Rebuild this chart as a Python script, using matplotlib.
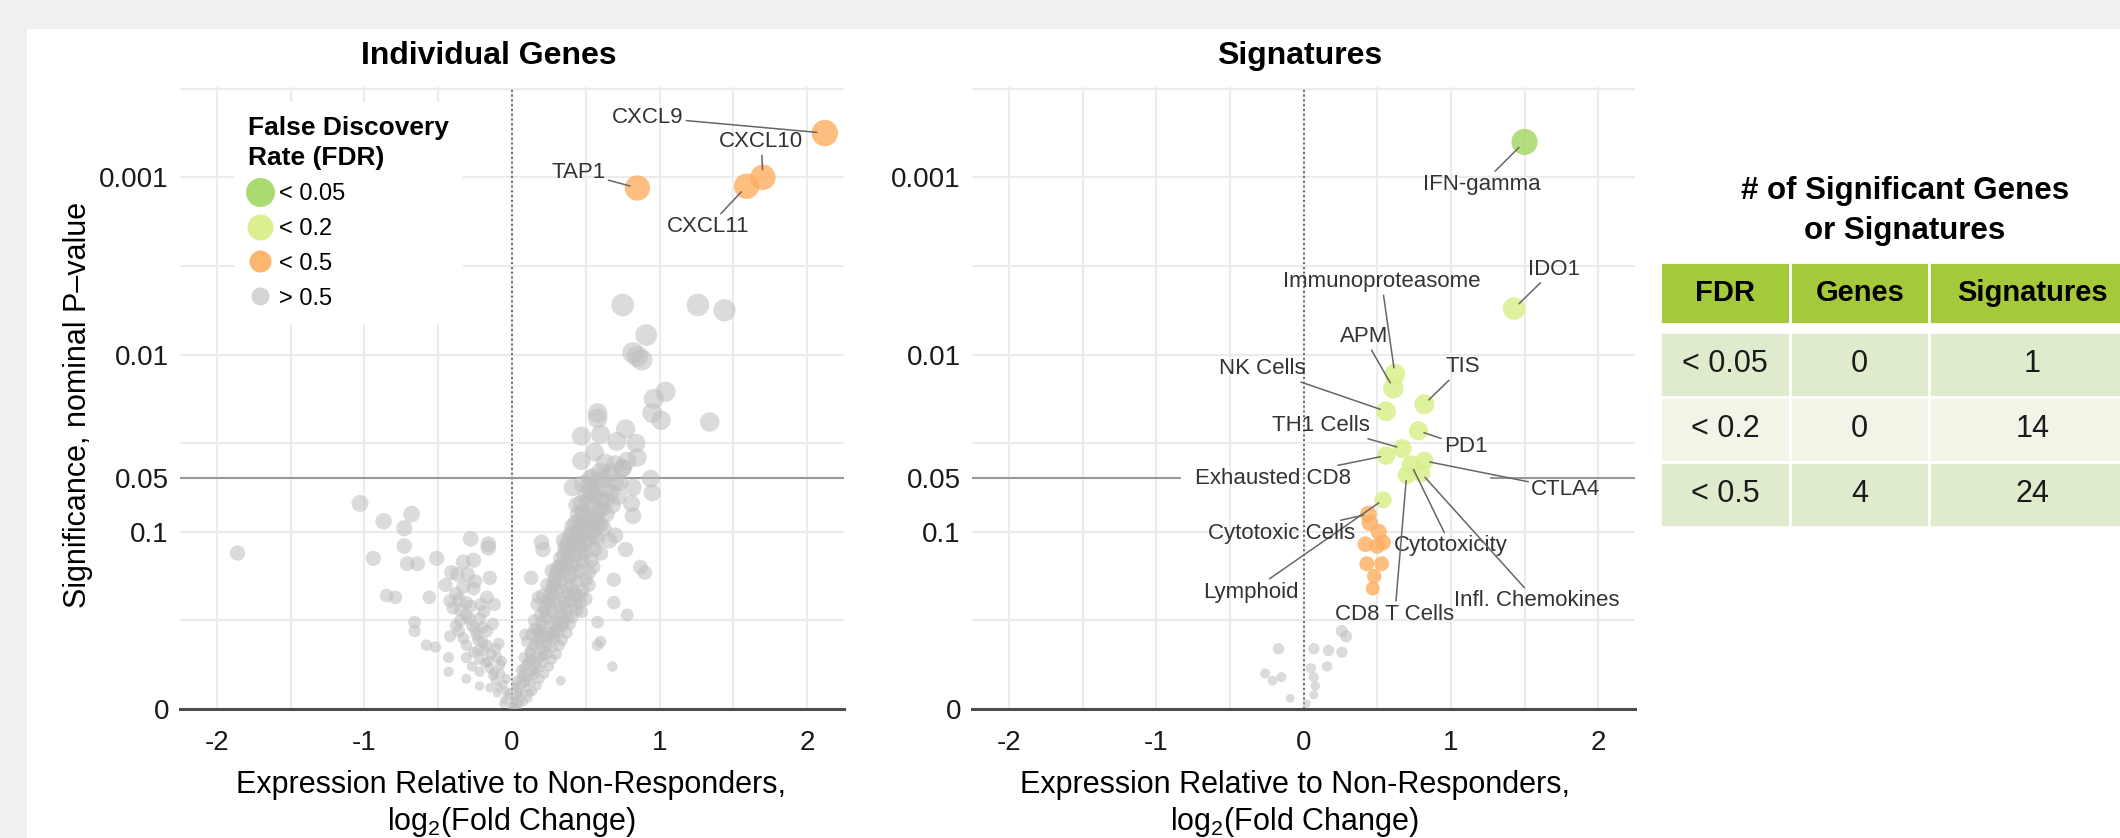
import matplotlib
matplotlib.use('Agg')
import matplotlib.pyplot as plt
from matplotlib.lines import Line2D
from matplotlib.patches import Rectangle
import numpy as np

plt.rcParams['font.family'] = ['Liberation Sans', 'DejaVu Sans']
plt.rcParams['mathtext.fontset'] = 'custom'
plt.rcParams['mathtext.rm'] = 'Liberation Sans'
plt.rcParams['mathtext.it'] = 'Liberation Sans:italic'
plt.rcParams['mathtext.bf'] = 'Liberation Sans:bold'

# ---- data: (log2 fold change, -log10 p) ----
# genes with FDR > 0.5
ns_genes = [
    # right arm of the volcano
    (0.01, 0.02), (0.03, 0.04), (0.05, 0.03), (0.02, 0.07), (0.06, 0.06), (0.08, 0.09), (0.04, 0.11),
    (0.10, 0.12), (0.07, 0.14), (0.13, 0.15), (0.03, 0.16), (0.09, 0.18), (0.15, 0.19), (0.12, 0.21),
    (0.06, 0.22), (0.18, 0.23), (0.10, 0.25), (0.14, 0.27), (0.21, 0.26), (0.08, 0.29), (0.17, 0.30),
    (0.24, 0.31), (0.12, 0.32), (0.20, 0.34), (0.27, 0.35), (0.15, 0.36), (0.10, 0.38), (0.23, 0.38),
    (0.19, 0.40), (0.29, 0.40), (0.13, 0.42), (0.25, 0.43), (0.32, 0.44), (0.17, 0.45), (0.21, 0.47),
    (0.28, 0.48), (0.35, 0.49), (0.15, 0.50), (0.24, 0.51), (0.31, 0.52), (0.19, 0.53), (0.27, 0.55),
    (0.37, 0.55), (0.22, 0.57), (0.33, 0.58), (0.17, 0.59), (0.29, 0.60), (0.40, 0.61), (0.25, 0.62),
    (0.35, 0.63), (0.21, 0.64), (0.31, 0.66), (0.42, 0.66), (0.27, 0.68), (0.37, 0.69), (0.24, 0.70),
    (0.33, 0.72), (0.44, 0.72), (0.29, 0.74), (0.39, 0.75), (0.35, 0.77), (0.27, 0.78), (0.45, 0.78),
    (0.31, 0.80), (0.41, 0.81), (0.37, 0.83), (0.48, 0.84), (0.33, 0.85), (0.43, 0.87), (0.39, 0.89),
    (0.50, 0.89), (0.36, 0.91), (0.46, 0.92), (0.42, 0.94), (0.52, 0.95), (0.39, 0.97), (0.48, 0.98),
    (0.44, 1.00), (0.55, 1.01), (0.41, 1.03), (0.50, 1.04), (0.46, 1.06), (0.57, 1.07), (0.53, 1.09),
    (0.48, 1.11), (0.59, 1.12), (0.55, 1.14), (0.51, 1.17), (0.61, 1.18), (0.57, 1.20), (0.53, 1.23),
    (0.63, 1.24), (0.48, 1.27), (0.58, 1.28),
    (0.05, 0.09), (0.11, 0.17), (0.16, 0.25), (0.22, 0.33), (0.26, 0.41), (0.30, 0.46), (0.33, 0.53),
    (0.36, 0.60), (0.38, 0.65), (0.40, 0.70), (0.42, 0.76), (0.45, 0.82), (0.47, 0.88), (0.49, 0.93),
    (0.51, 0.99), (0.53, 1.05), (0.02, 0.12), (0.07, 0.19), (0.13, 0.28), (0.18, 0.37), (0.20, 0.44),
    (0.23, 0.52), (0.26, 0.58), (0.28, 0.64), (0.30, 0.70), (0.32, 0.76), (0.36, 0.81), (0.38, 0.86),
    (0.41, 0.91), (0.44, 0.96), (0.46, 1.02), (0.49, 1.08), (0.01, 0.05), (0.04, 0.08), (0.09, 0.15),
    (0.14, 0.22), (0.19, 0.29), (0.24, 0.36), (0.28, 0.42), (0.34, 0.47), (0.38, 0.52), (0.43, 0.59),
    (0.46, 0.64),
    (0.11, 0.06), (0.14, 0.10), (0.17, 0.13), (0.19, 0.17), (0.22, 0.20), (0.25, 0.24), (0.27, 0.28),
    (0.30, 0.31), (0.32, 0.36), (0.34, 0.39), (0.37, 0.43), (0.39, 0.48), (0.41, 0.52), (0.44, 0.56),
    (0.46, 0.60), (0.48, 0.67), (0.50, 0.73), (0.52, 0.77), (0.54, 0.84), (0.56, 0.90), (0.58, 0.96),
    (0.60, 1.04), (0.03, 0.13), (0.06, 0.17), (0.08, 0.23), (0.11, 0.27), (0.13, 0.33), (0.16, 0.39),
    (0.18, 0.43), (0.20, 0.49), (0.22, 0.55), (0.24, 0.60), (0.26, 0.65), (0.28, 0.71), (0.30, 0.77),
    (0.33, 0.81), (0.35, 0.87), (0.37, 0.93), (0.40, 0.99), (0.43, 1.05), (0.45, 1.10), (0.47, 1.16),
    (0.50, 1.21), (0.52, 1.26), (0.55, 1.31), (0.60, 1.34), (0.64, 1.18), (0.61, 1.13), (0.58, 1.04),
    (0.56, 0.97), (0.43, 0.64), (0.36, 0.57), (0.31, 0.49), (0.29, 0.44), (0.23, 0.41), (0.21, 0.30),
    (0.16, 0.21), (0.12, 0.09), (0.08, 0.04), (0.04, 0.01), (0.02, 0.01),
    (0.62, 1.02), (0.66, 0.95), (0.60, 0.88), (0.55, 0.80), (0.52, 0.70), (0.50, 0.62), (0.47, 0.55),
    (0.64, 1.10), (0.68, 1.15), (0.72, 1.20), (0.62, 1.30), (0.66, 1.33), (0.70, 1.38), (0.75, 1.36),
    (0.73, 1.28), (0.67, 1.22),
    # scattered positives
    (0.41, 1.25), (0.56, 1.21), (0.95, 1.22), (0.94, 1.30), (0.82, 1.25), (0.44, 1.15), (0.81, 1.16),
    (0.82, 1.09), (0.20, 0.94), (0.21, 0.90), (0.35, 0.95), (0.70, 0.98), (0.77, 0.90), (0.87, 0.80),
    (0.90, 0.77), (0.13, 0.74), (0.69, 0.73), (0.69, 0.60), (0.78, 0.53), (0.58, 0.49), (0.60, 0.38),
    (0.58, 0.36), (0.68, 0.24), (0.33, 0.16), (0.09, 0.42), (0.18, 0.63), (0.15, 0.45),
    (0.75, 2.28), (1.26, 2.28), (1.44, 2.25), (0.91, 2.11), (0.82, 2.01), (0.85, 1.99), (0.88, 1.97),
    (1.04, 1.79), (0.96, 1.75), (0.95, 1.67), (1.01, 1.63), (1.34, 1.62), (0.58, 1.67), (0.58, 1.64),
    (0.47, 1.54), (0.60, 1.55), (0.77, 1.58), (0.71, 1.51), (0.84, 1.50), (0.56, 1.45), (0.47, 1.40),
    (0.63, 1.39), (0.78, 1.40), (0.85, 1.42), (0.75, 1.36), (0.53, 1.30), (0.70, 1.28),
    # left arm
    (-1.86, 0.88), (-1.03, 1.16), (-0.87, 1.06), (-0.68, 1.10), (-0.73, 1.02), (-0.73, 0.92),
    (-0.94, 0.85), (-0.71, 0.82), (-0.64, 0.82), (-0.51, 0.85), (-0.85, 0.64), (-0.79, 0.63),
    (-0.56, 0.63), (-0.66, 0.49), (-0.66, 0.44), (-0.58, 0.36), (-0.52, 0.35), (-0.43, 0.29),
    (-0.43, 0.21), (-0.28, 0.96), (-0.16, 0.93), (-0.16, 0.91), (-0.15, 0.74), (-0.26, 0.84),
    (-0.33, 0.83), (-0.41, 0.77), (-0.37, 0.76), (-0.45, 0.70), (-0.42, 0.61), (-0.40, 0.57),
    (-0.26, 0.68), (-0.17, 0.63), (-0.12, 0.59), (-0.31, 0.53), (-0.22, 0.51), (-0.13, 0.48),
    (-0.42, 0.41), (-0.33, 0.40), (-0.24, 0.42), (-0.31, 0.36), (-0.17, 0.36), (-0.09, 0.37),
    (-0.31, 0.29), (-0.22, 0.28), (-0.10, 0.29), (-0.31, 0.17), (-0.22, 0.21), (-0.15, 0.23),
    (-0.08, 0.25), (-0.22, 0.13), (-0.15, 0.12), (-0.10, 0.09), (-0.05, 0.05), (-0.01, 0.02),
    (-0.20, 0.46), (-0.27, 0.47), (-0.35, 0.50), (-0.19, 0.55), (-0.28, 0.58), (-0.36, 0.62),
    (-0.23, 0.33), (-0.18, 0.26), (-0.13, 0.19), (-0.27, 0.24), (-0.06, 0.14), (-0.04, 0.10),
    (-0.11, 0.16), (-0.08, 0.20), (-0.03, 0.07), (-0.14, 0.31), (-0.20, 0.38), (-0.25, 0.72),
    (-0.33, 0.69), (-0.38, 0.47),
    (-0.06, 0.03), (-0.09, 0.12), (-0.12, 0.21), (-0.16, 0.27), (-0.19, 0.33), (-0.23, 0.39),
    (-0.25, 0.45), (-0.29, 0.51), (-0.31, 0.60), (-0.21, 0.59), (-0.17, 0.44), (-0.11, 0.34),
    (-0.07, 0.27), (-0.04, 0.17), (-0.02, 0.09), (-0.35, 0.56), (-0.38, 0.65), (-0.30, 0.76),
    (-0.36, 0.44), (-0.26, 0.32),
]

# labelled genes, all FDR < 0.5
top_genes = ['CXCL9', 'CXCL10', 'CXCL11', 'TAP1']
top_genes_x = [2.12, 1.70, 1.59, 0.85]
top_genes_y = [3.25, 3.00, 2.95, 2.94]
top_genes_fdr = ['< 0.5', '< 0.5', '< 0.5', '< 0.5']

# gene signatures
sig_names = ['IFN-gamma', 'IDO1', 'Immunoproteasome', 'APM', 'TIS', 'NK Cells', 'PD1',
             'TH1 Cells', 'Exhausted CD8', 'CTLA4', 'Cytotoxicity', 'Infl. Chemokines',
             'CD8 T Cells', 'Lymphoid', 'Cytotoxic Cells']
sig_x = [1.50, 1.43, 0.62, 0.61, 0.82, 0.56, 0.78, 0.67, 0.56, 0.82, 0.73, 0.80, 0.70, 0.54, 0.44]
sig_y = [3.20, 2.26, 1.89, 1.81, 1.72, 1.68, 1.57, 1.47, 1.43, 1.40, 1.38, 1.33, 1.32, 1.18, 1.10]
sig_fdr = ['< 0.05'] + ['< 0.2'] * 13 + ['< 0.5']

# unlabelled signatures
sig_other_x = [0.45, 0.51, 0.54, 0.50, 0.42, 0.43, 0.53, 0.48, 0.47,
               0.26, 0.29, -0.17, 0.07, 0.17, 0.26, 0.16, -0.26, -0.21, -0.15, 0.05, 0.07, 0.08,
               0.07, -0.09, 0.02]
sig_other_y = [1.05, 1.00, 0.94, 0.92, 0.93, 0.82, 0.82, 0.75, 0.68,
               0.44, 0.41, 0.34, 0.34, 0.33, 0.32, 0.24, 0.20, 0.16, 0.18, 0.23, 0.18, 0.13,
               0.08, 0.06, 0.03]
sig_other_fdr = ['< 0.5'] * 9 + ['> 0.5'] * 16

fdr_levels = ['< 0.05', '< 0.2', '< 0.5', '> 0.5']
fdr_colors = {'< 0.05': '#A6D96A', '< 0.2': '#D9EF8B', '< 0.5': '#FDAE61', '> 0.5': '#BEBEBE'}
fdr_alpha = {'< 0.05': 0.85, '< 0.2': 0.85, '< 0.5': 0.8, '> 0.5': 0.55}

y_ticks = [0, 1, -np.log10(0.05), 2, 3]
y_ticklabels = ['0', '0.1', '0.05', '0.01', '0.001']
x_ticks = [-2, -1, 0, 1, 2]

# label placement (text centres, data units)
gene_label_pos = {'CXCL9': (0.92, 3.34), 'CXCL10': (1.69, 3.20),
                  'CXCL11': (1.33, 2.72), 'TAP1': (0.45, 3.03)}
sig_label_pos = {'IFN-gamma': (1.21, 2.96), 'IDO1': (1.70, 2.48), 'Immunoproteasome': (0.53, 2.41),
                 'APM': (0.41, 2.10), 'TIS': (1.08, 1.93), 'NK Cells': (-0.28, 1.92),
                 'PD1': (1.10, 1.48), 'TH1 Cells': (0.12, 1.60), 'Exhausted CD8': (-0.21, 1.30),
                 'CTLA4': (1.78, 1.24), 'Cytotoxicity': (1.00, 0.92),
                 'Infl. Chemokines': (1.58, 0.61), 'CD8 T Cells': (0.62, 0.535),
                 'Lymphoid': (-0.36, 0.66), 'Cytotoxic Cells': (-0.15, 0.99)}

W, H = 2120, 838
fig = plt.figure(figsize=(W / 100, H / 100), dpi=100)
fig.patch.set_facecolor('#F0F0F0')
fig.patches.append(Rectangle((27 / W, 0), 1, 1 - 29 / H, transform=fig.transFigure,
                             facecolor='white', edgecolor='none', zorder=-10))


def point_size(y):
    # marker area grows with significance
    d_px = np.sqrt(65 + 195 * np.asarray(y, dtype=float))
    return (d_px * 0.72) ** 2


def style_axes(ax):
    ax.set_xlim(-2.25, 2.25)
    ax.set_ylim(0, 3.51)
    ax.set_xticks(x_ticks)
    ax.set_xticklabels([str(t) for t in x_ticks])
    ax.set_xticks([-1.5, -0.5, 0.5, 1.5], minor=True)
    ax.set_yticks(y_ticks)
    ax.set_yticklabels(y_ticklabels)
    ax.set_yticks([0.5, 1.5, 2.5, 3.5], minor=True)
    ax.tick_params(which='both', length=0, labelsize=20, labelcolor='#1a1a1a')
    ax.tick_params(axis='x', pad=15)
    ax.tick_params(axis='y', pad=8)
    ax.grid(which='both', color='#EBEBEB', lw=1.5, zorder=0)
    ax.get_ygridlines()[2].set_visible(False)
    ax.set_axisbelow(True)
    for side in ['top', 'right', 'left']:
        ax.spines[side].set_visible(False)
    ax.spines['bottom'].set_color('#4d4d4d')
    ax.spines['bottom'].set_linewidth(2.2)
    ax.axvline(0, color='#555555', ls=':', lw=1.3, zorder=1)
    ax.set_xlabel('Expression Relative to Non-Responders,\nlog$_2$(Fold Change)',
                  fontsize=22, linespacing=1.2)


def draw_points(ax, xs, ys, cats):
    xs = np.asarray(xs, dtype=float)
    ys = np.asarray(ys, dtype=float)
    cats = np.asarray(cats)
    for lvl in fdr_levels[::-1]:
        m = cats == lvl
        if m.any():
            ax.scatter(xs[m], ys[m], s=point_size(ys[m]), c=fdr_colors[lvl],
                       alpha=fdr_alpha[lvl], edgecolors='none', zorder=3)


def label_points(ax, names, xs, ys, positions):
    for name, x, y in zip(names, xs, ys):
        tx, ty = positions[name]
        r = np.sqrt(point_size(y)) / 2
        ax.annotate(name, xy=(x, y), xytext=(tx, ty), ha='center', va='center',
                    fontsize=16, color='#333333', zorder=5,
                    arrowprops=dict(arrowstyle='-', color='#666666', lw=1.1,
                                    shrinkA=0, shrinkB=r * 0.6))


p05 = -np.log10(0.05)

# ---- individual genes ----
ax1 = fig.add_axes([180 / W, (H - 709) / H, 664 / W, 622 / H])
style_axes(ax1)
ax1.axhline(p05, color='#999999', lw=1.5, zorder=1)
gx, gy = np.array(ns_genes).T
draw_points(ax1, gx, gy, ['> 0.5'] * len(gx))
draw_points(ax1, top_genes_x, top_genes_y, top_genes_fdr)
label_points(ax1, top_genes, top_genes_x, top_genes_y, gene_label_pos)
ax1.set_ylabel('Significance, nominal P\u2013value', fontsize=22)
ax1.yaxis.set_label_coords(-0.131, 0.489)
ax1.xaxis.set_label_coords(0.4985, -0.098)

handles = []
legend_px = {'< 0.05': 29, '< 0.2': 26, '< 0.5': 22, '> 0.5': 18}
for lvl in fdr_levels:
    handles.append(Line2D([0], [0], ls='', marker='o', ms=legend_px[lvl] * 0.72,
                          mfc=fdr_colors[lvl], mec='none', alpha=fdr_alpha[lvl] + 0.1))
leg = ax1.legend(handles, fdr_levels, title='False Discovery\nRate (FDR)', alignment='left',
                 title_fontproperties={'weight': 'bold', 'size': 19}, fontsize=17,
                 loc='upper left', bbox_to_anchor=(0.081, 0.976), frameon=True,
                 facecolor='white', edgecolor='none', framealpha=1, fancybox=False,
                 handlelength=1.0, handletextpad=0.3, labelspacing=0.55, borderpad=0.6,
                 borderaxespad=0)
leg.get_title().set_linespacing(1.3)
leg.set_zorder(4)

# ---- signatures ----
ax2 = fig.add_axes([972 / W, (H - 709) / H, 663 / W, 622 / H])
style_axes(ax2)
ax2.plot([-2.25, -0.84], [p05, p05], color='#999999', lw=1.5, zorder=1)
ax2.plot([1.27, 2.25], [p05, p05], color='#999999', lw=1.5, zorder=1)
draw_points(ax2, sig_other_x, sig_other_y, sig_other_fdr)
draw_points(ax2, sig_x, sig_y, sig_fdr)
label_points(ax2, sig_names, sig_x, sig_y, sig_label_pos)
ax2.xaxis.set_label_coords(0.487, -0.098)

fig.text(489 / W, 1 - 56 / H, 'Individual Genes', ha='center', va='center',
         fontsize=23, fontweight='bold')
fig.text(1300 / W, 1 - 56 / H, 'Signatures', ha='center', va='center',
         fontsize=23, fontweight='bold')

# ---- summary table ----
def cumulative_count(cats, lvl):
    order = fdr_levels.index(lvl)
    return sum(1 for c in cats if fdr_levels.index(c) <= order)


gene_cats = ['> 0.5'] * len(ns_genes) + top_genes_fdr
sig_cats = sig_fdr + sig_other_fdr
table_rows = [[lvl, str(cumulative_count(gene_cats, lvl)), str(cumulative_count(sig_cats, lvl))]
              for lvl in fdr_levels[:3]]
table_header = ['FDR', 'Genes', 'Signatures']
col_w = [0.274, 0.293, 0.433]

tab_ax = fig.add_axes([1660 / W, (H - 527) / H, 475 / W, 265 / H])
tab_ax.axis('off')
hdr = tab_ax.table(cellText=[table_header], colWidths=col_w, cellLoc='center',
                   bbox=[0, 0.766, 1, 0.234])
body = tab_ax.table(cellText=table_rows, colWidths=col_w, cellLoc='center',
                    bbox=[0, 0, 1, 0.736])
for tbl in (hdr, body):
    tbl.auto_set_font_size(False)
for (r, c), cell in hdr.get_celld().items():
    cell.set_facecolor('#A4C93B')
    cell.set_edgecolor('white')
    cell.set_linewidth(2)
    cell.get_text().set_fontweight('bold')
    cell.get_text().set_fontsize(21)
for (r, c), cell in body.get_celld().items():
    cell.set_facecolor('#DFEBCD' if r % 2 == 0 else '#F0F5E7')
    cell.set_edgecolor('white')
    cell.set_linewidth(2)
    cell.get_text().set_fontsize(22)
    cell.get_text().set_color('#1a1a1a')

fig.text(1905 / W, 1 - 211 / H, '# of Significant Genes\nor Signatures', ha='center',
         va='center', fontsize=22.5, fontweight='bold', linespacing=1.4)

fig.savefig('out.png', dpi=100, facecolor=fig.get_facecolor())
